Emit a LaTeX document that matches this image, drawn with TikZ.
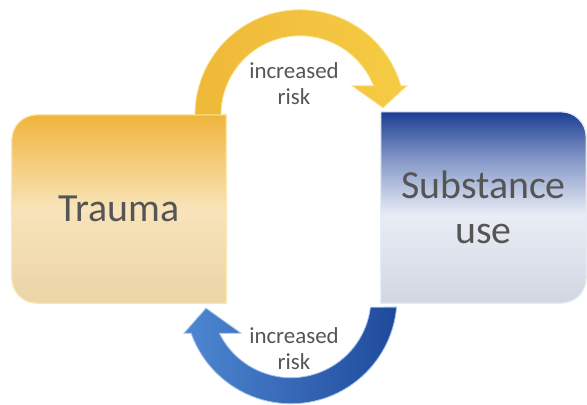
\documentclass[tikz,border=0pt]{standalone}
\usepackage{fontspec}
\setmainfont{Carlito}
\usetikzlibrary{calc, backgrounds}
\definecolor{traumatop}{HTML}{F0B53C}
\definecolor{traumaupper}{HTML}{F4CB78}
\definecolor{traumamid}{HTML}{F8E3BA}
\definecolor{traumabot}{HTML}{EBD4A6}
\definecolor{traumaedge}{HTML}{FAE7B0}
\definecolor{subtop}{HTML}{1C3D93}
\definecolor{subupper}{HTML}{8195C6}
\definecolor{submid}{HTML}{E9EDF5}
\definecolor{subbot}{HTML}{D1D6E1}
\definecolor{subedge}{HTML}{E6EAF2}
\definecolor{riskgold}{HTML}{EFB838}
\definecolor{riskgoldlt}{HTML}{F6CC44}
\definecolor{riskgoldedge}{HTML}{FBE394}
\definecolor{riskblue}{HTML}{1F4A9C}
\definecolor{riskbluelt}{HTML}{4E87D2}
\definecolor{riskblueedge}{HTML}{A3C4EE}
\definecolor{labelgrey}{HTML}{555555}

% fills for the two boxes (path spans 25bp to 75bp)
\pgfdeclareverticalshading{traumafill}{100bp}{color(0bp)=(traumabot); color(25bp)=(traumabot);
  color(50bp)=(traumamid); color(63bp)=(traumaupper); color(75bp)=(traumatop); color(100bp)=(traumatop)}
\pgfdeclareverticalshading{substfill}{100bp}{color(0bp)=(subbot); color(25bp)=(subbot);
  color(48bp)=(submid); color(63bp)=(subupper); color(75bp)=(subtop); color(100bp)=(subtop)}

\tikzset{
  box/.style={minimum width=#1, inner sep=0pt, align=center, text=labelgrey,
              font=\fontsize{40}{45}\selectfont},
  box/.default=210bp,
  risk/.style={align=center, inner sep=0pt, text=labelgrey,
               font=\fontsize{23}{26}\selectfont},
  goldarrow/.style={left color=riskgold, right color=riskgoldlt,
                    draw=riskgoldedge, line width=0.8bp},
  bluearrow/.style={left color=riskbluelt, right color=riskblue,
                    draw=riskblueedge, line width=0.8bp},
}

\begin{document}
\begin{tikzpicture}[x=1bp, y=1bp]
  \useasboundingbox (0,0) rectangle (587,404);

  \node[box=214bp, minimum height=188bp] (trauma) at (119,195) {Trauma};
  \node[box=205bp, minimum height=191bp] (subst) at (483.5,196.5) {Substance\\use};
  \node[risk] (riskup) at (294,320) {increased\\risk};
  \node[risk] (riskdown) at (294,55) {increased\\risk};

  % centres of the two curved arrows
  \coordinate (hubup) at ($(trauma.north)+(181,0)$);
  \coordinate (hubdown) at ($(subst.south)+(-192.5,5.5)$);

  \begin{scope}[on background layer]
    % boxes: rounded only on the outer side
    \shade[shading=traumafill, draw=traumaedge, line width=1.2bp]
      (trauma.north east) -- ($(trauma.north west)+(25,0)$)
      arc[start angle=90, end angle=180, radius=25bp]
      -- ($(trauma.south west)+(0,25)$)
      arc[start angle=180, end angle=270, radius=25bp]
      -- (trauma.south east) -- cycle;
    \shade[shading=substfill, draw=subedge, line width=1.2bp]
      (subst.north west) -- ($(subst.north east)+(-25,0)$)
      arc[start angle=90, end angle=0, radius=25bp]
      -- ($(subst.south east)+(0,25)$)
      arc[start angle=0, end angle=-90, radius=25bp]
      -- (subst.south west) -- cycle;

    % trauma -> substance use
    \shade[goldarrow]
      ($(hubup)+(180:105)$) arc[start angle=180, end angle=16, radius=105bp]
      -- ($(hubup)+(107,29)$) -- ($(hubup)+(83,7)$) -- ($(hubup)+(52,29)$)
      -- ($(hubup)+(21.5:79)$) arc[start angle=21.5, end angle=180, radius=79bp]
      -- cycle;

    % substance use -> trauma
    \shade[bluearrow]
      ($(hubdown)+(-5.1:106)$) arc[start angle=-5.1, end angle=-160.4, radius=106bp]
      -- ($(hubdown)+(-107,-35.5)$) -- ($(hubdown)+(-85,-10.5)$) -- ($(hubdown)+(-50,-35.5)$)
      -- ($(hubdown)+(-153.6:80)$) arc[start angle=-153.6, end angle=-6.8, radius=80bp]
      -- cycle;
  \end{scope}
\end{tikzpicture}
\end{document}
